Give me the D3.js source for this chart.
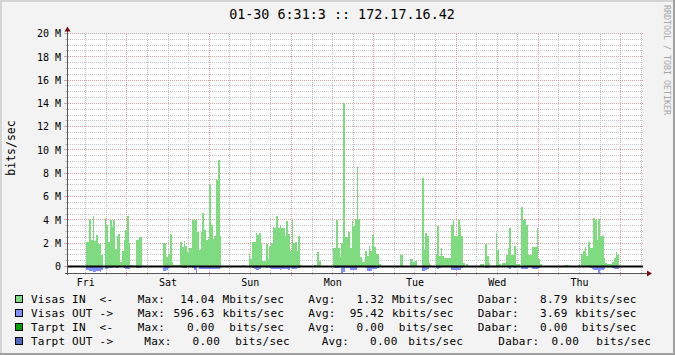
<!DOCTYPE html>
<html>
<head>
<meta charset="utf-8">
<script src="https://cdn.jsdelivr.net/npm/d3@7/dist/d3.min.js"></script>
<style>
  body { margin: 0; background: #f3f3f3; }
  svg { display: block; }
  text { font-family: "DejaVu Sans Mono", monospace; white-space: pre; }
</style>
</head>
<body>
<script>
// ---- data ----
const title = '01-30 6:31:3 :: 172.17.16.42';
const yLabel = 'bits/sec';
const watermark = 'RRDTOOL / TOBI OETIKER';
const timeStart = new Date('2009-01-23T06:31:00Z');
const timeEnd = new Date('2009-01-30T06:31:00Z');
const dataStart = new Date('2009-01-23T06:30:00Z');  // first 30 min sample
const stepMinutes = 30;

const yTicks = [0, 2e6, 4e6, 6e6, 8e6, 10e6, 12e6, 14e6, 16e6, 18e6, 20e6];
const yTickLabels = ['0', '2 M', '4 M', '6 M', '8 M', '10 M', '12 M', '14 M', '16 M', '18 M', '20 M'];

// Mbits/sec, one value every 30 minutes
const visasIn = [
  0, 0, 0, 0, 0, 0, 0, 0, 0, 0, 0, 2.1, 2.1, 4.1, 2.3, 4.3, 2.2, 2.7, 1.9, 1.9, 1.0, 0, 4.2, 3.6,
  2.1, 4.0, 3.4, 4.0, 1.5, 2.6, 2.8, 0.4, 1.3, 2.3, 3.1, 4.3, 2.0, 0.1, 0.1, 0, 2.3, 2.3, 2.5, 2.5, 0, 0, 0, 0,
  0, 0, 0, 0, 0, 0, 0, 0, 2.0, 2.0, 0.8, 1.1, 2.8, 0.4, 0.1, 0.1, 0.1, 0.1, 2.1, 1.7, 2.2, 1.8, 1.2, 1.6,
  1.6, 4.0, 4.0, 4.0, 3.0, 1.4, 3.0, 4.6, 3.1, 2.3, 2.4, 7.0, 3.6, 2.4, 2.6, 7.4, 9.1, 2.6, 0, 0, 0, 0, 0, 0,
  0, 0, 0, 0, 0, 0, 0.1, 0, 0, 0, 1.1, 0.6, 2.1, 2.1, 2.9, 2.7, 2.9, 2.0, 0.5, 0.5, 1.9, 0.6, 1.8, 2.0,
  3.4, 3.3, 4.3, 3.3, 3.6, 3.3, 3.3, 2.6, 3.9, 2.8, 1.3, 4.0, 2.0, 2.1, 1.3, 2.6, 0.1, 0, 0, 0, 0, 0, 0, 0,
  0.1, 0, 1.2, 0.5, 0, 0, 0, 0, 0, 0, 0, 1.6, 1.6, 4.0, 1.6, 0.8, 2.0, 14.0, 2.5, 2.5, 3.0, 1.6, 3.9, 3.5,
  4.1, 8.5, 4.1, 0.8, 0.4, 0.4, 1.3, 0.9, 1.8, 1.3, 2.7, 1.7, 1.1, 1.1, 0.2, 0, 0, 0, 0, 0, 0, 0, 0, 0,
  0, 0, 1.0, 1.0, 0, 0, 0, 0, 0.6, 0.6, 0.4, 0.5, 0, 0, 0, 7.6, 1.4, 2.9, 2.6, 0.3, 0.1, 0, 0, 1.0,
  3.5, 0.9, 1.6, 0.9, 0.7, 0.7, 0.7, 0.7, 3.6, 4.0, 2.6, 2.6, 4.0, 3.4, 2.6, 0.3, 0, 0.2, 0, 0, 0, 0, 0, 0,
  0, 0.2, 0.2, 0, 1.9, 0.9, 0.3, 0, 0, 0, 2.9, 1.4, 0.2, 0, 0.3, 0.3, 1.0, 1.6, 3.3, 1.0, 1.0, 1.8, 0.2, 0.2,
  0, 5.1, 4.0, 4.1, 3.6, 1.0, 1.0, 1.7, 1.7, 1.7, 3.3, 0.6, 0.2, 0, 0, 0, 0, 0, 0, 0, 0, 0, 0, 0,
  0, 0, 0.1, 0.1, 0.1, 0, 0, 0, 0, 0, 0.1, 0, 1.1, 1.3, 1.7, 0.9, 2.1, 1.6, 1.6, 4.2, 4.0, 2.3, 4.1, 2.6,
  2.6, 0.7, 0.3, 0.2, 0.2, 0.2, 0.4, 0.7, 1.2, 1.0, 0, 0, 0, 0, 0, 0, 0, 0, 0, 0, 0, 0, 0, 0
];
const visasOut = [
  0, 0, 0, 0, 0, 0, 0, 0, 0, 0, 0, 0.3, 0.3, 0.35, 0.35, 0.45, 0.45, 0.35, 0.4, 0.45, 0.3, 0, 0.25, 0.25,
  0.1, 0.1, 0.1, 0.05, 0.15, 0.1, 0.05, 0, 0.05, 0.15, 0.2, 0.2, 0.2, 0, 0, 0, 0.17, 0.17, 0.17, 0.1, 0, 0, 0, 0,
  0, 0, 0, 0, 0, 0, 0, 0, 0.35, 0.35, 0.3, 0.1, 0.05, 0.03, 0.02, 0.02, 0.02, 0.02, 0.05, 0.1, 0.15, 0.15, 0.05, 0.05,
  0.05, 0.1, 0.3, 0.6, 0.05, 0.2, 0.25, 0.25, 0.25, 0.25, 0.25, 0.25, 0.25, 0.25, 0.2, 0.2, 0.2, 0.1, 0, 0, 0, 0, 0, 0,
  0, 0, 0, 0, 0, 0, 0, 0, 0, 0, 0.1, 0.05, 0.15, 0.2, 0.3, 0.3, 0.2, 0.05, 0.05, 0, 0.1, 0.05, 0.1, 0.2,
  0.25, 0.25, 0.25, 0.25, 0.3, 0.25, 0.25, 0.25, 0.25, 0.3, 0.15, 0.25, 0.2, 0.2, 0.15, 0.15, 0, 0, 0, 0, 0, 0, 0, 0,
  0, 0, 0.05, 0, 0, 0, 0, 0, 0, 0, 0, 0.05, 0.1, 0.15, 0.1, 0.05, 0.55, 0.5, 0.1, 0.1, 0.15, 0.3, 0.3, 0.3,
  0.3, 0.15, 0.05, 0.05, 0, 0, 0.1, 0.35, 0.37, 0.35, 0.2, 0.2, 0.2, 0.15, 0, 0, 0, 0, 0, 0, 0, 0, 0, 0,
  0, 0, 0, 0, 0, 0, 0, 0, 0.02, 0.02, 0.02, 0.02, 0, 0, 0, 0.35, 0.37, 0.3, 0.25, 0.05, 0, 0, 0, 0.1,
  0.2, 0.1, 0.05, 0.05, 0.05, 0.05, 0.05, 0.05, 0.28, 0.28, 0.28, 0.28, 0.28, 0.28, 0.1, 0, 0, 0, 0, 0, 0, 0, 0, 0,
  0, 0.05, 0.05, 0, 0.12, 0.12, 0, 0, 0, 0, 0.02, 0.02, 0, 0, 0, 0, 0.05, 0.1, 0.25, 0.05, 0.05, 0.1, 0.05, 0.05,
  0, 0.25, 0.25, 0.2, 0.2, 0.05, 0.05, 0.2, 0.25, 0.25, 0.25, 0.1, 0, 0, 0, 0, 0, 0, 0, 0, 0, 0, 0, 0,
  0, 0, 0, 0, 0, 0, 0, 0, 0, 0, 0, 0, 0.02, 0.02, 0.02, 0.05, 0.05, 0.1, 0.2, 0.28, 0.28, 0.28, 0.57, 0.28,
  0.28, 0.2, 0.05, 0.05, 0.05, 0.05, 0.15, 0.25, 0.25, 0.2, 0, 0, 0, 0, 0, 0, 0, 0, 0, 0, 0, 0, 0, 0
];

// legend
const legendNames = ['Visas IN  <-', 'Visas OUT ->', 'Tarpt IN  <-', 'Tarpt OUT ->'];
const legendColors = ['#7fdb7f', '#7f8fff', '#00a000', '#5068c0'];
const legendMax = ['14.04', '596.63', '0.00', '0.00'];
const legendMaxUnit = ['Mbits/sec', 'kbits/sec', ' bits/sec', ' bits/sec'];
const legendAvg = ['1.32', '95.42', '0.00', '0.00'];
const legendAvgUnit = ['Mbits/sec', 'kbits/sec', ' bits/sec', ' bits/sec'];
const legendNow = ['8.79', '3.69', '0.00', '0.00'];
const legendNowUnit = ['kbits/sec', 'kbits/sec', ' bits/sec', ' bits/sec'];

// ---- layout ----
const width = 675, height = 355;
const plot = { left: 67, right: 643, top: 33, bottom: 273 };

const svg = d3.select('body').append('svg')
  .attr('width', width)
  .attr('height', height);

const minorColor = '#c4c4c4', majorColor = '#e0a0a0';

// dotted patterns (1px on / 1px off) so the grid stays pixel sharp
const defs = svg.append('defs');
const dotPattern = (id, w, h, color) => {
  defs.append('pattern')
    .attr('id', id)
    .attr('patternUnits', 'userSpaceOnUse')
    .attr('width', w).attr('height', h)
    .append('rect').attr('width', 1).attr('height', 1).attr('fill', color);
};
dotPattern('minorH', 2, 1, minorColor);
dotPattern('minorV', 1, 2, minorColor);
dotPattern('majorH', 2, 1, majorColor);
dotPattern('majorV', 1, 2, majorColor);

// background + 3d frame
svg.append('rect').attr('width', width).attr('height', height).attr('fill', '#f3f3f3');
svg.append('rect').attr('width', width).attr('height', 2).attr('fill', '#d4d4d4');
svg.append('rect').attr('width', 2).attr('height', height).attr('fill', '#d4d4d4');
svg.append('rect').attr('x', width - 2).attr('width', 2).attr('height', height).attr('fill', '#a0a0a0');
svg.append('rect').attr('y', height - 2).attr('width', width).attr('height', 2).attr('fill', '#a0a0a0');

// canvas
svg.append('rect')
  .attr('x', plot.left).attr('y', plot.top)
  .attr('width', plot.right - plot.left).attr('height', plot.bottom - plot.top)
  .attr('fill', '#ffffff');

const x = d3.scaleUtc().domain([timeStart, timeEnd]).range([plot.left, plot.right]);
const y = d3.scaleLinear().domain([-0.56e6, 20e6]).range([plot.bottom, 33.5]);

const px = v => Math.floor(v) + 0.5;

// ---- grid ----
const grid = svg.append('g').attr('shape-rendering', 'crispEdges');

const hours = d3.utcHour.every(6).range(timeStart, timeEnd).filter(d => d.getUTCHours() !== 0);
const days = d3.utcDay.range(timeStart, timeEnd);
const yMinor = d3.range(1, 41).map(i => i * 0.5e6).filter(v => v % 2e6 !== 0);

const hLines = (vals, fill) => grid.selectAll(null).data(vals).enter().append('rect')
  .attr('x', plot.left + 1).attr('width', plot.right - plot.left - 1)
  .attr('y', d => Math.floor(y(d))).attr('height', 1)
  .attr('fill', fill);
const vLines = (vals, fill) => grid.selectAll(null).data(vals).enter().append('rect')
  .attr('x', d => Math.floor(x(d))).attr('width', 1)
  .attr('y', plot.top).attr('height', plot.bottom - plot.top)
  .attr('fill', fill);

hLines(yMinor, 'url(#minorH)');
vLines(hours, 'url(#minorV)');
hLines(yTicks.slice(1), 'url(#majorH)');
vLines(days, 'url(#majorV)');

// ---- data areas ----
const toPoints = arr => {
  const pts = arr.map((v, i) => ({ t: d3.utcMinute.offset(dataStart, i * stepMinutes), v }));
  pts.push({ t: d3.utcMinute.offset(dataStart, arr.length * stepMinutes), v: arr[arr.length - 1] });
  return pts;
};

svg.append('clipPath').attr('id', 'clip').append('rect')
  .attr('x', plot.left).attr('y', plot.top)
  .attr('width', plot.right - plot.left).attr('height', plot.bottom - plot.top);

const areas = svg.append('g').attr('clip-path', 'url(#clip)').attr('shape-rendering', 'crispEdges');

const areaIn = d3.area()
  .curve(d3.curveStepAfter)
  .x(d => x(d.t))
  .y0(y(0))
  .y1(d => y(d.v * 1e6));

const areaOut = d3.area()
  .curve(d3.curveStepAfter)
  .x(d => x(d.t))
  .y0(y(0))
  .y1(d => y(-d.v * 1e6));

areas.append('path').datum(toPoints(visasIn)).attr('d', areaIn).attr('fill', legendColors[0]);
areas.append('path').datum(toPoints(visasOut)).attr('d', areaOut).attr('fill', legendColors[1]);

// zero line
svg.append('line')
  .attr('x1', plot.left).attr('x2', plot.right)
  .attr('y1', y(0)).attr('y2', y(0))
  .attr('stroke', '#000').attr('stroke-width', 2);

// ---- axes ----
const axisColor = '#555555';
const arrowColor = '#7a0c0c';
const axes = svg.append('g').attr('shape-rendering', 'crispEdges');

axes.selectAll(null).data(yTicks).enter().append('line')
  .attr('x1', plot.left - 3).attr('x2', plot.left)
  .attr('y1', d => px(y(d))).attr('y2', d => px(y(d)))
  .attr('stroke', majorColor);
axes.selectAll(null).data(yMinor).enter().append('line')
  .attr('x1', plot.left - 2).attr('x2', plot.left)
  .attr('y1', d => px(y(d))).attr('y2', d => px(y(d)))
  .attr('stroke', minorColor);
axes.selectAll(null).data(days).enter().append('line')
  .attr('x1', d => px(x(d))).attr('x2', d => px(x(d)))
  .attr('y1', plot.bottom).attr('y2', plot.bottom + 3)
  .attr('stroke', majorColor);
axes.selectAll(null).data(hours).enter().append('line')
  .attr('x1', d => px(x(d))).attr('x2', d => px(x(d)))
  .attr('y1', plot.bottom).attr('y2', plot.bottom + 2)
  .attr('stroke', minorColor);

axes.append('line')
  .attr('x1', px(plot.left)).attr('x2', px(plot.left))
  .attr('y1', plot.bottom + 2).attr('y2', plot.top - 4)
  .attr('stroke', axisColor);
axes.append('line')
  .attr('x1', plot.left - 2).attr('x2', plot.right + 4)
  .attr('y1', px(plot.bottom)).attr('y2', px(plot.bottom))
  .attr('stroke', axisColor);

// arrows
svg.append('path')
  .attr('d', `M${plot.left + 0.5},${plot.top - 6.5} L${plot.left - 2.5},${plot.top - 1.5} L${plot.left + 3.5},${plot.top - 1.5} Z`)
  .attr('fill', arrowColor);
svg.append('path')
  .attr('d', `M${plot.right + 9},${plot.bottom + 0.5} L${plot.right + 4},${plot.bottom - 2.5} L${plot.right + 4},${plot.bottom + 3.5} Z`)
  .attr('fill', arrowColor);

// y tick labels
svg.selectAll(null).data(yTicks).enter().append('text')
  .attr('x', plot.left - 6)
  .attr('y', d => y(d) + 3.8)
  .attr('text-anchor', 'end')
  .attr('font-size', '10px')
  .attr('fill', '#000')
  .text((d, i) => yTickLabels[i]);

// x tick labels (at noon)
const noons = d3.utcHour.every(12).range(timeStart, timeEnd).filter(d => d.getUTCHours() === 12);
svg.selectAll(null).data(noons).enter().append('text')
  .attr('x', d => x(d))
  .attr('y', plot.bottom + 12.5)
  .attr('text-anchor', 'middle')
  .attr('font-size', '10px')
  .attr('fill', '#000')
  .text(d => d3.utcFormat('%a')(d));

// title
svg.append('text')
  .attr('x', 342).attr('y', 19)
  .attr('text-anchor', 'middle')
  .attr('font-size', '13.4px')
  .attr('fill', '#000')
  .text(title);

// vertical unit label
svg.append('text')
  .attr('transform', 'translate(14.5,148) rotate(-90)')
  .attr('text-anchor', 'middle')
  .attr('font-size', '11.5px')
  .attr('fill', '#000')
  .text(yLabel);

// watermark
svg.append('text')
  .attr('transform', 'translate(663.5,5) rotate(90)')
  .attr('font-size', '8.3px')
  .attr('fill', '#a6a6a6')
  .text(watermark);

// ---- legend ----
// column positions: rows 1-3 share tab stops, last row is shifted by rrdtool
const cols = [
  { max: 137.7, maxEnd: 214.5, maxUnit: 222.5, avg: 308.3, avgEnd: 384, avgUnit: 392, now: 477.7, nowEnd: 567.5, nowUnit: 575 },
  { max: 144.3, maxEnd: 220, maxUnit: 228.3, avg: 321.7, avgEnd: 397.5, avgUnit: 401.5, now: 498.3, nowEnd: 579, nowUnit: 589.5 }
];
const legend = svg.append('g')
  .attr('font-size', '11px')
  .attr('letter-spacing', '0.23px')
  .attr('fill', '#000');

legendNames.forEach((name, i) => {
  const base = 303.3 + i * 14;
  const c = cols[i === 3 ? 1 : 0];
  legend.append('rect')
    .attr('x', 15.5).attr('y', base - 7.5)
    .attr('width', 7).attr('height', 7)
    .attr('fill', legendColors[i])
    .attr('stroke', '#000').attr('stroke-width', 1)
    .attr('shape-rendering', 'crispEdges');
  const t = (xPos, str, anchor) => legend.append('text')
    .attr('x', xPos).attr('y', base)
    .attr('text-anchor', anchor || 'start')
    .text(str);
  t(31, name);
  t(c.max, 'Max:');
  t(c.maxEnd, legendMax[i], 'end');
  t(c.maxUnit, legendMaxUnit[i]);
  t(c.avg, 'Avg:');
  t(c.avgEnd, legendAvg[i], 'end');
  t(c.avgUnit, legendAvgUnit[i]);
  t(c.now, 'Dabar:');
  t(c.nowEnd, legendNow[i], 'end');
  t(c.nowUnit, legendNowUnit[i]);
});
</script>
</body>
</html>
